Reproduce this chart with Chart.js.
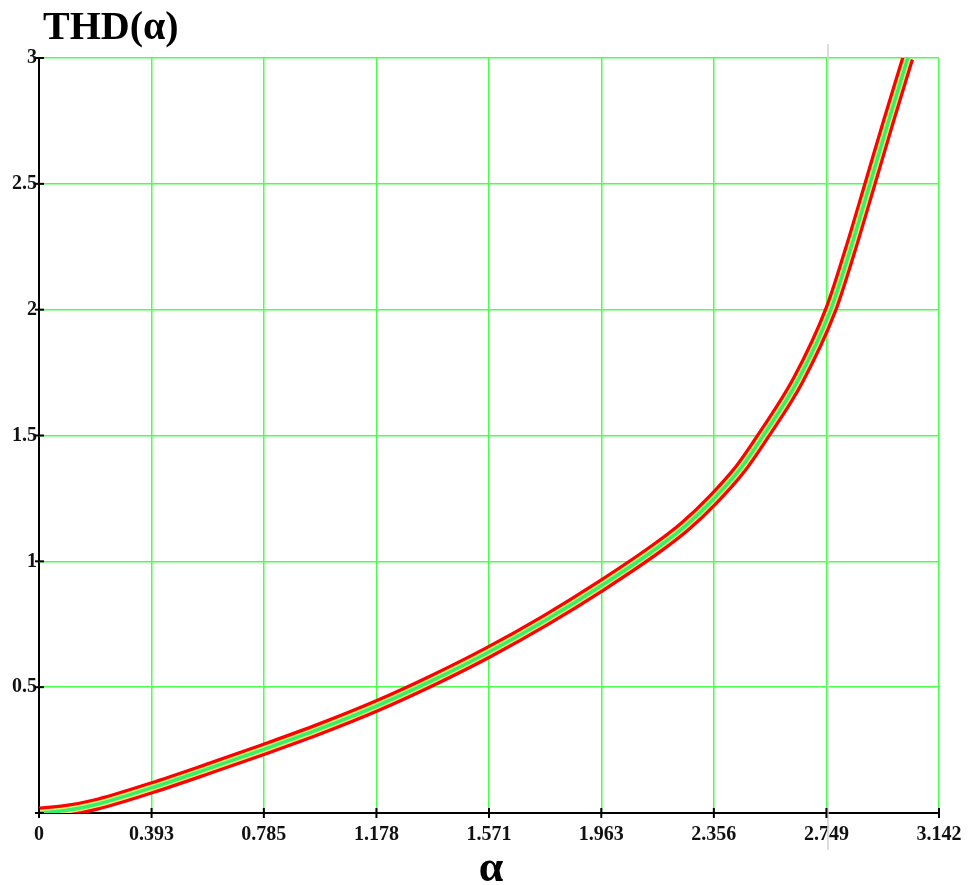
<!DOCTYPE html>
<html>
<head>
<meta charset="utf-8">
<script src="https://cdn.jsdelivr.net/npm/chart.js@4/dist/chart.umd.min.js"></script>
<style>
  html, body { margin: 0; padding: 0; background: #fff; }
  #wrap { width: 972px; height: 885px; }
</style>
</head>
<body>
<div id="wrap"><canvas id="thdChart"></canvas></div>
<script>
// alpha (rad) and THD
let alpha = [0, 0.098, 0.196, 0.393, 0.589, 0.785, 0.982, 1.178, 1.374, 1.571, 1.767, 1.963, 2.160, 2.256, 2.352, 2.45, 2.529, 2.65, 2.764, 2.832, 2.901, 2.966, 3.033];
let thd = [0, 0.011, 0.033, 0.100, 0.175, 0.253, 0.335, 0.425, 0.527, 0.640, 0.765, 0.903, 1.055, 1.14, 1.244, 1.37, 1.50, 1.72, 2.00, 2.237, 2.50, 2.75, 3.00];
// tick labels
let xTicks = [0, 0.393, 0.785, 1.178, 1.571, 1.963, 2.356, 2.749, 3.142];
let yTicks = [0, 0.5, 1, 1.5, 2, 2.5, 3];

let points = alpha.map((a, i) => ({ x: a, y: thd[i] }));
let green = '#4dff4d';
let font = 'Liberation Serif, Times New Roman, serif';

//titles, tick marks and the thin grey cursor line
let extras = {
    id: 'extras',
    beforeDatasetsDraw(chart) {
        let c = chart.ctx;
        let xs = chart.scales.x;
        c.save();
        c.strokeStyle = '#d2d2d2';
        c.lineWidth = 1.5;
        let gx = xs.getPixelForValue(2.749) + 1.5;
        c.beginPath();
        c.moveTo(gx, 44);
        c.lineTo(gx, 850);
        c.stroke();
        c.restore();
    },
    afterDraw(chart) {
        let c = chart.ctx;
        let xs = chart.scales.x, ys = chart.scales.y;
        let a = chart.chartArea;
        c.save();
        c.strokeStyle = '#000';
        c.lineWidth = 2;
        xTicks.forEach(v => {
            let px = xs.getPixelForValue(v);
            c.beginPath();
            c.moveTo(px, a.bottom - 5);
            c.lineTo(px, a.bottom + 5);
            c.stroke();
        });
        yTicks.forEach(v => {
            let py = ys.getPixelForValue(v);
            c.beginPath();
            c.moveTo(a.left - 4, py);
            c.lineTo(a.left + 5, py);
            c.stroke();
        });
        c.fillStyle = '#000';
        c.font = 'bold 40px ' + font;
        c.textAlign = 'left';
        c.textBaseline = 'alphabetic';
        c.fillText('THD(\u03b1)', 43, 39);
        c.font = 'bold 44px ' + font;
        c.textAlign = 'center';
        c.fillText('\u03b1', 491, 881);
        c.restore();
    }
};

let band = (color, width) => ({
    data: points,
    borderColor: color,
    borderWidth: width,
    pointRadius: 0,
    fill: false,
    cubicInterpolationMode: 'monotone'
});

// index 0 is painted last, so green sits on top of yellow on top of red
let thdChart = new Chart(document.getElementById('thdChart'), {
    type: 'line',
    data: {
        datasets: [
            band('#35f070', 3.5),
            band('#e6f060', 6.5),
            band('#ff0000', 13)
        ]
    },
    options: {
        responsive: true,
        maintainAspectRatio: false,
        animation: false,
        layout: { padding: { top: 58, right: 33, left: 0, bottom: 0 } },
        plugins: { legend: { display: false }, tooltip: { enabled: false } },
        scales: {
            x: {
                type: 'linear',
                min: 0,
                max: 3.142,
                afterBuildTicks: s => { s.ticks = xTicks.map(v => ({ value: v })); },
                afterFit: s => { s.height = 72; },
                border: { display: false },
                grid: {
                    drawTicks: false,
                    color: c => c.tick.value === 0 ? '#000' : green,
                    lineWidth: c => c.tick.value === 0 ? 2 : 1.5
                },
                ticks: {
                    color: '#111',
                    padding: 10,
                    maxRotation: 0,
                    font: { family: font, size: 20, weight: 'bold' },
                    callback: v => v === 0 ? '0' : v.toFixed(3)
                }
            },
            y: {
                min: 0,
                max: 3,
                afterBuildTicks: s => { s.ticks = yTicks.map(v => ({ value: v })); },
                afterFit: s => { s.width = 39; },
                border: { display: false },
                grid: {
                    drawTicks: false,
                    color: c => c.tick.value === 0 ? '#000' : green,
                    lineWidth: c => c.tick.value === 0 ? 2 : 1.5
                },
                ticks: {
                    color: '#111',
                    padding: 2,
                    font: { family: font, size: 20, weight: 'bold' },
                    callback: v => v === 0 ? '' : String(v)
                }
            }
        }
    },
    plugins: [extras]
});
</script>
</body>
</html>
